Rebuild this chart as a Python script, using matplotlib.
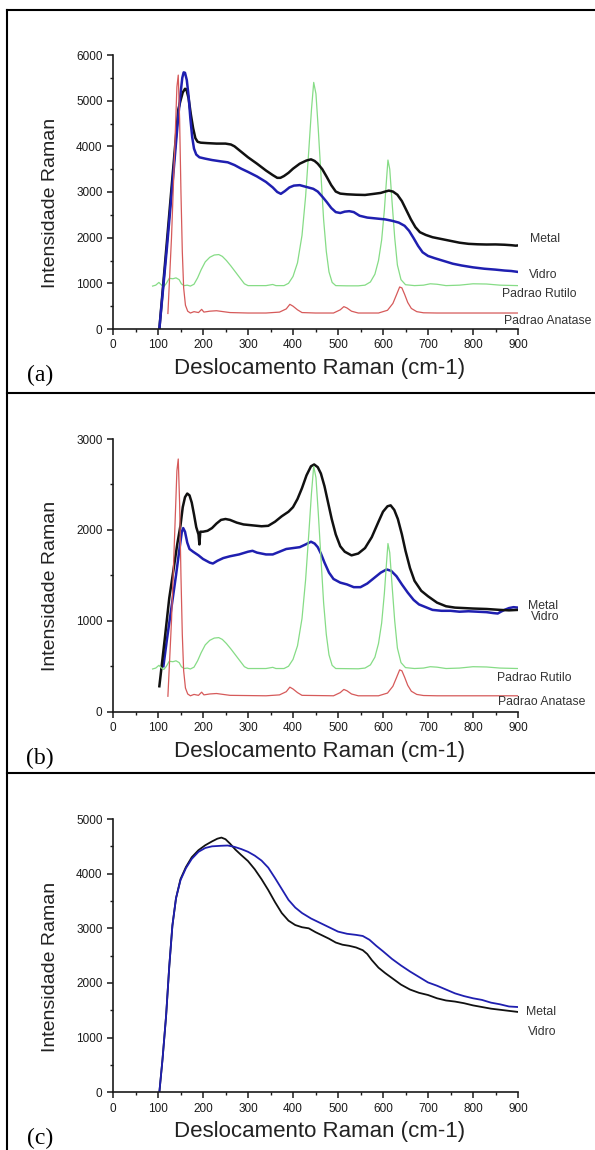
# Raman spectra, three panels (a), (b), (c)
import matplotlib
matplotlib.use("Agg")
import matplotlib.pyplot as plt
from matplotlib.lines import Line2D
from matplotlib.ticker import MultipleLocator

plt.rcParams['font.family'] = ['Liberation Sans', 'DejaVu Sans']

# ---- panel (a) ----
a_metal_x = [103, 145, 150, 155, 160, 163, 168, 173, 178, 183, 188, 195, 210, 230, 250, 262, 270, 280, 290, 300,
             320, 340, 355, 365, 372, 380, 390, 400, 415, 430, 440, 448, 455, 465, 475, 485, 495, 505, 520, 540,
             560, 580, 595, 605, 613, 622, 632, 642, 652, 662, 672, 682, 695, 710, 730, 750, 770, 790, 810, 830,
             850, 870, 885, 895, 900]
a_metal_y = [0, 4800, 5000, 5180, 5260, 5250, 5050, 4700, 4400, 4180, 4100, 4080, 4070, 4060, 4060, 4040, 4000, 3920, 3840, 3760,
             3620, 3470, 3370, 3310, 3310, 3350, 3420, 3510, 3620, 3690, 3715, 3680, 3620, 3500, 3330, 3150, 3010, 2965, 2950, 2940,
             2935, 2960, 2980, 3010, 3030, 3010, 2940, 2800, 2600, 2400, 2230, 2120, 2060, 2010, 1970, 1930, 1890, 1865, 1855, 1850,
             1852, 1845, 1835, 1825, 1830]

a_vidro_x = [103, 120, 135, 145, 150, 154, 157, 160, 164, 168, 172, 176, 180, 185, 192, 205, 220, 240, 255, 270,
             285, 300, 320, 340, 355, 365, 373, 382, 392, 402, 415, 430, 445, 455, 465, 475, 485, 495, 505, 515,
             525, 535, 548, 565, 585, 605, 620, 635, 648, 658, 668, 678, 688, 700, 715, 735, 755, 775, 800, 825,
             850, 870, 885, 900]
a_vidro_y = [0, 1800, 3500, 4650, 5150, 5500, 5620, 5610, 5450, 5100, 4600, 4200, 3950, 3820, 3760, 3730, 3700, 3670, 3650, 3590,
             3510, 3440, 3340, 3220, 3100, 3000, 2960, 3020, 3100, 3140, 3150, 3110, 3070, 3010, 2900, 2780, 2650, 2560, 2540, 2570,
             2580, 2560, 2480, 2440, 2420, 2400, 2370, 2330, 2260, 2150, 1990, 1820, 1680, 1600, 1550, 1490, 1430, 1390, 1350, 1320,
             1300, 1280, 1270, 1250]

a_rutilo_x = [88, 95, 102, 108, 113, 118, 125, 133, 140, 147, 152, 158, 165, 172, 180, 188, 196, 205, 215, 225,
              235, 243, 252, 262, 272, 282, 292, 300, 320, 340, 355, 362, 380, 390, 400, 410, 420, 428, 435, 441,
              446, 451, 456, 462, 468, 474, 480, 487, 495, 520, 545, 560, 572, 582, 590, 597, 603, 608, 611, 615,
              620, 626, 632, 640, 650, 670, 690, 705, 720, 740, 770, 800, 830, 860, 900]
a_rutilo_y = [940, 960, 1020, 960, 930, 990, 1110, 1100, 1120, 1080, 990, 950, 960, 940, 980, 1120, 1300, 1470, 1570, 1620,
              1630, 1590, 1500, 1380, 1250, 1120, 990, 950, 950, 950, 975, 950, 950, 1000, 1150, 1450, 2050, 2900, 3900, 4800,
              5400, 5150, 4400, 3400, 2400, 1700, 1250, 1020, 950, 945, 945, 960, 1030, 1200, 1500, 1950, 2600, 3300, 3700, 3500,
              2800, 2000, 1400, 1080, 970, 950, 960, 990, 980, 950, 960, 990, 985, 960, 950]

a_anatase_x = [122, 130, 137, 142, 145, 148, 151, 154, 157, 161, 166, 172, 180, 190, 197, 202, 215, 230, 245, 260,
               300, 340, 370, 385, 393, 400, 410, 420, 450, 490, 505, 513, 520, 530, 545, 590, 610, 622, 630, 637,
               642, 648, 655, 663, 675, 690, 720, 800, 900]
a_anatase_y = [340, 2000, 3900, 5300, 5560, 4600, 3000, 1700, 900, 520, 390, 350, 380, 360, 430, 370, 390, 400, 380, 360,
               350, 350, 370, 440, 540, 500, 420, 360, 350, 350, 420, 490, 460, 390, 350, 350, 410, 560, 750, 920,
               900, 760, 580, 450, 380, 355, 350, 350, 350]

# ---- panel (b) ----
b_metal_x = [103, 115, 125, 135, 143, 150, 155, 160, 165, 170, 175, 180, 185, 190, 192, 194, 200, 210, 220, 230,
             240, 250, 260, 275, 290, 310, 330, 345, 360, 375, 390, 400, 410, 420, 430, 440, 447, 455, 462, 470,
             478, 486, 495, 505, 515, 530, 545, 560, 575, 590, 600, 610, 617, 625, 633, 642, 650, 660, 670, 685,
             700, 720, 740, 760, 780, 800, 830, 860, 880, 900]
b_metal_y = [280, 800, 1250, 1580, 1850, 2050, 2250, 2360, 2400, 2380, 2300, 2170, 2030, 1950, 1840, 1980, 1980, 1990, 2020, 2070,
             2110, 2120, 2110, 2080, 2060, 2050, 2040, 2045, 2090, 2150, 2200, 2250, 2340, 2460, 2600, 2700, 2720, 2690, 2620, 2480,
             2300, 2120, 1950, 1820, 1760, 1720, 1740, 1800, 1920, 2090, 2200, 2260, 2270, 2220, 2120, 1950, 1770, 1580, 1440, 1330,
             1270, 1200, 1160, 1145, 1140, 1135, 1130, 1120, 1115, 1120]

b_vidro_x = [112, 120, 130, 140, 148, 153, 156, 160, 165, 170, 178, 190, 200, 215, 222, 232, 245, 260, 280, 300,
             310, 320, 340, 355, 370, 385, 400, 415, 428, 440, 448, 455, 462, 470, 480, 490, 505, 520, 535, 550,
             565, 580, 595, 608, 618, 630, 642, 655, 668, 680, 695, 710, 730, 750, 770, 790, 810, 830, 845, 855,
             862, 870, 880, 890, 900]
b_vidro_y = [500, 800, 1150, 1500, 1800, 1980, 2020, 1980, 1860, 1790, 1760, 1720, 1680, 1640, 1630, 1660, 1690, 1710, 1730, 1760,
             1770, 1750, 1730, 1730, 1760, 1790, 1800, 1810, 1840, 1870, 1850, 1810, 1740, 1640, 1530, 1460, 1420, 1400, 1370, 1370,
             1410, 1470, 1530, 1565, 1550, 1490, 1400, 1310, 1230, 1180, 1150, 1120, 1110, 1110, 1100, 1105, 1100, 1095, 1085, 1080,
             1100, 1120, 1140, 1150, 1145]

b_rutilo_x = [88, 95, 102, 108, 113, 118, 125, 133, 140, 147, 152, 158, 165, 172, 180, 188, 196, 205, 215, 225,
              235, 243, 252, 262, 272, 282, 292, 300, 340, 355, 362, 380, 390, 400, 410, 420, 428, 435, 441, 446,
              451, 456, 462, 468, 474, 480, 487, 495, 545, 560, 572, 582, 590, 597, 603, 608, 611, 615, 620, 626,
              632, 640, 650, 670, 690, 705, 720, 740, 770, 800, 830, 860, 900]
b_rutilo_y = [470, 480, 510, 480, 465, 495, 555, 550, 560, 540, 495, 475, 480, 470, 490, 560, 650, 735, 785, 810,
              815, 795, 750, 690, 625, 560, 495, 475, 475, 488, 475, 475, 500, 575, 725, 1025, 1450, 1950, 2400, 2700,
              2575, 2200, 1700, 1200, 850, 625, 510, 475, 472, 480, 515, 600, 750, 975, 1300, 1650, 1850, 1750, 1400, 1000,
              700, 540, 485, 475, 480, 495, 490, 475, 480, 495, 492, 480, 475]

b_anatase_x = [122, 130, 137, 142, 145, 148, 151, 154, 157, 161, 166, 172, 180, 190, 197, 202, 215, 230, 245, 260,
               340, 370, 385, 393, 400, 410, 420, 490, 505, 513, 520, 530, 545, 590, 610, 622, 630, 637, 642, 648,
               655, 663, 675, 690, 720, 900]
b_anatase_y = [170, 1000, 1950, 2650, 2780, 2300, 1500, 850, 450, 260, 195, 175, 190, 180, 215, 185, 195, 200, 190, 180,
               175, 185, 220, 270, 250, 210, 180, 175, 210, 245, 230, 195, 175, 175, 205, 280, 375, 460, 450, 380,
               290, 225, 190, 178, 175, 175]

# ---- panel (c) ----
c_metal_x = [103, 110, 118, 125, 132, 140, 150, 162, 175, 190, 205, 220, 232, 241, 250, 260, 272, 285, 300, 315,
             330, 345, 360, 375, 390, 405, 420, 435, 450, 465, 480, 495, 510, 525, 540, 555, 565, 575, 590, 605,
             620, 640, 660, 680, 700, 720, 740, 760, 780, 800, 820, 840, 860, 880, 900]
c_metal_y = [0, 600, 1400, 2300, 3050, 3550, 3900, 4120, 4300, 4430, 4520, 4590, 4640, 4660, 4630, 4550, 4440, 4340, 4230, 4080,
             3900, 3700, 3480, 3280, 3140, 3060, 3020, 3000, 2930, 2870, 2810, 2740, 2700, 2680, 2650, 2600, 2530, 2420, 2280, 2180,
             2090, 1970, 1880, 1820, 1780, 1720, 1680, 1660, 1630, 1590, 1560, 1530, 1510, 1490, 1470]

c_vidro_x = [103, 110, 118, 125, 132, 140, 150, 162, 175, 190, 205, 220, 240, 255, 270, 285, 300, 315, 330, 345,
             360, 375, 390, 405, 420, 440, 460, 480, 500, 520, 540, 555, 570, 585, 600, 620, 640, 660, 680, 700,
             720, 740, 760, 780, 800, 820, 840, 860, 880, 900]
c_vidro_y = [0, 600, 1400, 2300, 3050, 3550, 3880, 4100, 4270, 4400, 4470, 4500, 4510, 4515, 4490, 4450, 4400, 4330, 4240, 4110,
             3920, 3720, 3520, 3380, 3280, 3180, 3100, 3020, 2940, 2900, 2880, 2860, 2790, 2680, 2580, 2440, 2320, 2210, 2110, 2010,
             1950, 1880, 1810, 1760, 1720, 1690, 1640, 1610, 1570, 1560]

# colours
black = '#111111'
blue = '#1f1fb0'
green = '#86dc86'
red = '#d65a5a'

fig = plt.figure(figsize=(5.95, 11.5), dpi=100)

left = 113 / 595
width = 405 / 595
ax_a = fig.add_axes([left, 1 - 329 / 1150, width, 274 / 1150])
ax_b = fig.add_axes([left, 1 - 711.7 / 1150, width, 272.7 / 1150])
ax_c = fig.add_axes([left, 1 - 1092.3 / 1150, width, 273.3 / 1150])


def style_axes(ax, ymax, letter):
    ax.set_xlim(0, 900)
    ax.set_ylim(0, ymax)
    ax.spines['top'].set_visible(False)
    ax.spines['right'].set_visible(False)
    for s in ('left', 'bottom'):
        ax.spines[s].set_linewidth(1.2)
        ax.spines[s].set_color('#1a1a1a')
    ax.xaxis.set_major_locator(MultipleLocator(100))
    ax.xaxis.set_minor_locator(MultipleLocator(50))
    ax.yaxis.set_major_locator(MultipleLocator(1000))
    ax.yaxis.set_minor_locator(MultipleLocator(500))
    ax.tick_params(which='major', direction='out', length=4, width=1.1, labelsize=8.5,
                   color='#1a1a1a', labelcolor='#1a1a1a')
    ax.tick_params(which='minor', direction='out', length=2.5, width=1.0, color='#1a1a1a')
    ax.text(-0.155, 0.46, 'Intensidade Raman', transform=ax.transAxes, rotation=90,
            ha='center', va='center', fontsize=14, color='#222222')
    ax.text(0.51, -0.145, 'Deslocamento Raman (cm-1)', transform=ax.transAxes,
            ha='center', va='center', fontsize=16, color='#222222')
    ax.text(-0.18, -0.17, letter, transform=ax.transAxes, ha='center', va='center',
            fontsize=17, family=['Liberation Serif', 'DejaVu Serif'], color='black')


# (a)
ax_a.plot(a_rutilo_x, a_rutilo_y, color=green, lw=0.9)
ax_a.plot(a_metal_x, a_metal_y, color=black, lw=1.8)
ax_a.plot(a_vidro_x, a_vidro_y, color=blue, lw=1.8)
ax_a.plot(a_anatase_x, a_anatase_y, color=red, lw=0.9)
style_axes(ax_a, 6000, '(a)')
for txt, x, y in [('Metal', 927, 1971), ('Vidro', 924, 1183),
                  ('Padrao Rutilo', 864, 766), ('Padrao Anatase', 868, 175)]:
    ax_a.text(x, y, txt, fontsize=8.8, ha='left', va='center', color='#333333', clip_on=False)

# (b)
ax_b.plot(b_vidro_x, b_vidro_y, color=blue, lw=1.8)
ax_b.plot(b_metal_x, b_metal_y, color=black, lw=1.8)
ax_b.plot(b_rutilo_x, b_rutilo_y, color=green, lw=0.9)
ax_b.plot(b_anatase_x, b_anatase_y, color=red, lw=0.9)
style_axes(ax_b, 3000, '(b)')
for txt, x, y in [('Metal', 923, 1166), ('Vidro', 929, 1038),
                  ('Padrao Rutilo', 853, 374), ('Padrao Anatase', 856, 103)]:
    ax_b.text(x, y, txt, fontsize=8.8, ha='left', va='center', color='#333333', clip_on=False)

# (c)
ax_c.plot(c_metal_x, c_metal_y, color=black, lw=1.3)
ax_c.plot(c_vidro_x, c_vidro_y, color=blue, lw=1.3)
style_axes(ax_c, 5000, '(c)')
for txt, x, y in [('Metal', 917, 1469), ('Vidro', 921, 1103)]:
    ax_c.text(x, y, txt, fontsize=8.8, ha='left', va='center', color='#333333', clip_on=False)

# panel frames
fx = 7 / 595
for ypix in (10, 393, 773):
    yf = 1 - ypix / 1150
    fig.add_artist(Line2D([fx, 1.0], [yf, yf], transform=fig.transFigure, color='black', lw=1.5))
fig.add_artist(Line2D([fx, fx], [0, 1 - 10 / 1150], transform=fig.transFigure, color='black', lw=1.5))

fig.savefig('out.png', dpi=100)
